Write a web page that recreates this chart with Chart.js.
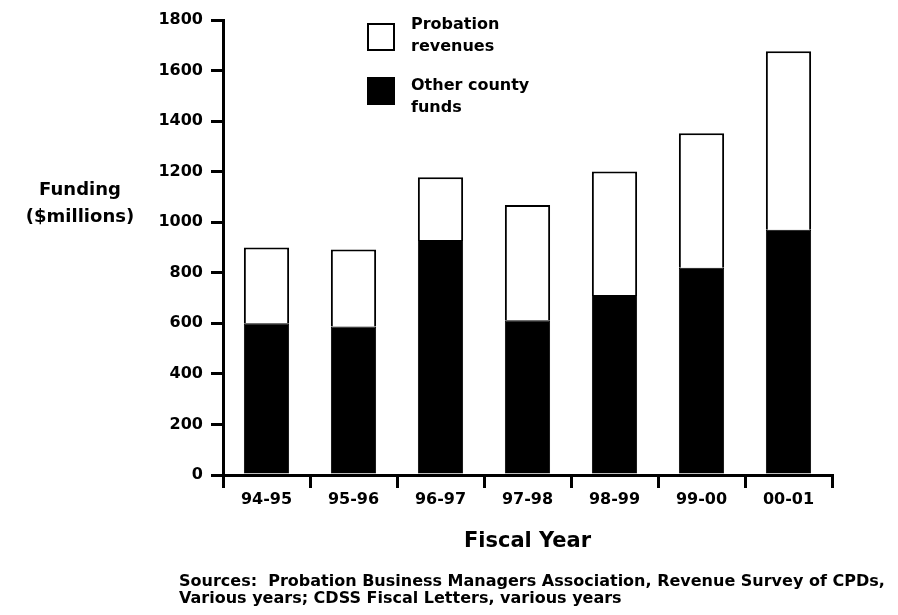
<!DOCTYPE html>
<html>
<head>
<meta charset="utf-8">
<script src="https://cdn.jsdelivr.net/npm/chart.js@4/dist/chart.umd.min.js"></script>
<style>
  body { margin: 0; background: #fff; }
  #wrap { width: 898px; height: 615px; position: relative; }
</style>
</head>
<body>
<div id="wrap"><canvas id="myChart"></canvas></div>
<script>
const fiscalYears = ["94-95", "95-96", "96-97", "97-98", "98-99", "99-00", "00-01"];
const otherCountyFunds = [600, 587, 930, 612, 712, 820, 970];
const probationRevenues = [300, 305, 248, 456, 489, 532, 706];
const yTicks = [0, 200, 400, 600, 800, 1000, 1200, 1400, 1600, 1800];
const yTitle = ["Funding", "($millions)"];
const sources = [
  "Sources:  Probation Business Managers Association, Revenue Survey of CPDs,",
  "Various years; CDSS Fiscal Letters, various years"
];

const FONT = "'DejaVu Sans', 'Liberation Sans', Arial, sans-serif";
Chart.defaults.font.family = FONT;
Chart.defaults.font.weight = "bold";
Chart.defaults.color = "#000";

// horizontal y title, boxed legend and the sources note, drawn by hand
const extras = {
  id: "extras",
  afterDraw(chart) {
    const ctx = chart.ctx;
    ctx.save();
    ctx.fillStyle = "#000";
    ctx.font = "bold 18px " + FONT;
    ctx.textAlign = "center";
    ctx.textBaseline = "middle";
    yTitle.forEach((t, i) => ctx.fillText(t, 80, 190 + i * 27));

    ctx.font = "bold 16px " + FONT;
    ctx.textAlign = "left";
    sources.forEach((t, i) => ctx.fillText(t, 179, 582 + i * 17));

    ctx.textBaseline = "alphabetic";
    const items = chart.data.datasets.slice().reverse();
    items.forEach((ds, i) => {
      const top = 23 + i * 54;
      ctx.fillStyle = ds.backgroundColor;
      ctx.fillRect(367, top, 28, 28);
      ctx.lineWidth = 2;
      ctx.strokeStyle = "#000";
      ctx.strokeRect(368, top + 1, 26, 26);
      ctx.fillStyle = "#000";
      ds.label.split("\n").forEach((line, j) => ctx.fillText(line, 411, top + 6 + i * 7 + j * 21.5));
    });
    ctx.restore();
  }
};

new Chart("myChart", {
  type: "bar",
  data: {
    labels: fiscalYears,
    datasets: [
      {
        label: "Other county\nfunds",
        data: otherCountyFunds,
        backgroundColor: "#000",
        borderColor: "#000",
        borderWidth: 1,
        barPercentage: 0.52,
        categoryPercentage: 1.0,
      },
      {
        label: "Probation\nrevenues",
        data: probationRevenues,
        backgroundColor: "#fff",
        borderColor: "#000",
        borderWidth: 2,
        barPercentage: 0.52,
        categoryPercentage: 1.0,
      },
    ],
  },
  options: {
    responsive: true,
    maintainAspectRatio: false,
    animation: false,
    layout: { padding: { left: 0, right: 66, top: 20, bottom: 61 } },
    plugins: {
      legend: { display: false },
      tooltip: { enabled: false },
    },
    scales: {
      x: {
        stacked: true,
        afterFit: (s) => { s.height = 79; },
        grid: { drawOnChartArea: false, color: "#000", lineWidth: 3, tickLength: 13 },
        border: { color: "#000", width: 3 },
        ticks: { color: "#000", font: { size: 16, weight: "bold" }, padding: 2 },
        title: { display: true, text: "Fiscal Year", color: "#000", font: { size: 21, weight: "bold" }, padding: 0 },
      },
      y: {
        stacked: true,
        min: 0,
        max: 1800,
        afterFit: (s) => { s.width = 223; },
        afterBuildTicks: (s) => { s.ticks = yTicks.map((v) => ({ value: v })); },
        grid: { drawOnChartArea: false, color: "#000", lineWidth: 3, tickLength: 12 },
        border: { color: "#000", width: 3 },
        ticks: { color: "#000", font: { size: 16, weight: "bold" }, padding: 8, callback: (v) => String(v) },
      },
    },
  },
  plugins: [extras],
});
</script>
</body>
</html>
